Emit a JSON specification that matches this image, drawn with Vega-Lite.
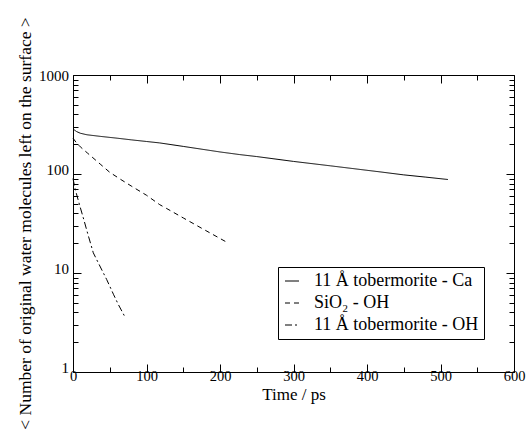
{
  "$schema": "https://vega.github.io/schema/vega-lite/v6.json",
  "width": 441,
  "height": 297,
  "autosize": "none",
  "padding": {"left": 73, "top": 75, "right": 14, "bottom": 60},
  "background": "white",
  "config": {
    "view": {"stroke": null},
    "font": "'Liberation Serif', 'Times New Roman', serif",
    "axis": {
      "grid": false,
      "domainColor": "black",
      "domainWidth": 1,
      "tickColor": "black",
      "tickWidth": 1,
      "labelColor": "black",
      "titleColor": "black",
      "labelFont": "'Liberation Serif', 'Times New Roman', serif",
      "titleFont": "'Liberation Serif', 'Times New Roman', serif",
      "labelFontSize": 15,
      "titleFontSize": 17.5,
      "titleFontWeight": 400,
      "labelFlush": false,
      "labelOverlap": false
    }
  },
  "data": {
    "values": [
      {"series": "11 Å tobermorite - Ca", "t": 0, "v": 285},
      {"series": "11 Å tobermorite - Ca", "t": 5, "v": 268},
      {"series": "11 Å tobermorite - Ca", "t": 10, "v": 258},
      {"series": "11 Å tobermorite - Ca", "t": 19, "v": 249},
      {"series": "11 Å tobermorite - Ca", "t": 37, "v": 240},
      {"series": "11 Å tobermorite - Ca", "t": 60, "v": 230},
      {"series": "11 Å tobermorite - Ca", "t": 80, "v": 221},
      {"series": "11 Å tobermorite - Ca", "t": 100, "v": 213},
      {"series": "11 Å tobermorite - Ca", "t": 118, "v": 206},
      {"series": "11 Å tobermorite - Ca", "t": 150, "v": 190},
      {"series": "11 Å tobermorite - Ca", "t": 200, "v": 167},
      {"series": "11 Å tobermorite - Ca", "t": 227, "v": 157},
      {"series": "11 Å tobermorite - Ca", "t": 250, "v": 150},
      {"series": "11 Å tobermorite - Ca", "t": 300, "v": 134},
      {"series": "11 Å tobermorite - Ca", "t": 350, "v": 121},
      {"series": "11 Å tobermorite - Ca", "t": 400, "v": 109},
      {"series": "11 Å tobermorite - Ca", "t": 418, "v": 105},
      {"series": "11 Å tobermorite - Ca", "t": 450, "v": 98},
      {"series": "11 Å tobermorite - Ca", "t": 480, "v": 93},
      {"series": "11 Å tobermorite - Ca", "t": 510, "v": 88},
      {"series": "SiO₂ - OH", "t": 0, "v": 230},
      {"series": "SiO₂ - OH", "t": 5, "v": 205},
      {"series": "SiO₂ - OH", "t": 10, "v": 188},
      {"series": "SiO₂ - OH", "t": 20, "v": 162},
      {"series": "SiO₂ - OH", "t": 37, "v": 126},
      {"series": "SiO₂ - OH", "t": 50, "v": 104},
      {"series": "SiO₂ - OH", "t": 65, "v": 88},
      {"series": "SiO₂ - OH", "t": 80, "v": 75},
      {"series": "SiO₂ - OH", "t": 100, "v": 61},
      {"series": "SiO₂ - OH", "t": 118, "v": 49},
      {"series": "SiO₂ - OH", "t": 127, "v": 45},
      {"series": "SiO₂ - OH", "t": 150, "v": 36},
      {"series": "SiO₂ - OH", "t": 180, "v": 27},
      {"series": "SiO₂ - OH", "t": 209, "v": 20.5},
      {"series": "11 Å tobermorite - OH", "t": 0, "v": 90},
      {"series": "11 Å tobermorite - OH", "t": 3, "v": 70},
      {"series": "11 Å tobermorite - OH", "t": 9.5, "v": 47},
      {"series": "11 Å tobermorite - OH", "t": 15, "v": 34},
      {"series": "11 Å tobermorite - OH", "t": 20, "v": 25},
      {"series": "11 Å tobermorite - OH", "t": 27.6, "v": 16},
      {"series": "11 Å tobermorite - OH", "t": 35, "v": 12.4},
      {"series": "11 Å tobermorite - OH", "t": 45.8, "v": 8.6},
      {"series": "11 Å tobermorite - OH", "t": 55, "v": 6.1},
      {"series": "11 Å tobermorite - OH", "t": 61.7, "v": 4.8},
      {"series": "11 Å tobermorite - OH", "t": 70.7, "v": 3.6}
    ]
  },
  "layer": [
    {
      "mark": {"type": "line", "stroke": "black", "strokeWidth": 1},
      "encoding": {
        "x": {
          "field": "t",
          "type": "quantitative",
          "scale": {"domain": [0, 600], "nice": false},
          "axis": {
            "orient": "bottom",
            "values": [0, 50, 100, 150, 200, 250, 300, 350, 400, 450, 500, 550, 600],
            "labelExpr": "datum.value % 100 == 0 ? format(datum.value, 'd') : ''",
            "tickSize": {"condition": {"test": "datum.value % 100 == 0", "value": -8}, "value": -5},
            "labelBaseline": "alphabetic",
            "labelFontSize": 14.5,
            "labelPadding": 16,
            "title": "Time / ps",
            "titleFontSize": 17,
            "titleFontWeight": 400,
            "titleBaseline": "alphabetic",
            "titleY": 27
          }
        },
        "y": {
          "field": "v",
          "type": "quantitative",
          "scale": {"type": "log", "domain": [1, 1000], "nice": false},
          "axis": {
            "orient": "left",
            "values": [1, 2, 3, 4, 5, 6, 7, 8, 9, 10, 20, 30, 40, 50, 60, 70, 80, 90, 100, 200, 300, 400, 500, 600, 700, 800, 900, 1000],
            "labelExpr": "indexof([1, 10, 100, 1000], datum.value) >= 0 ? format(datum.value, 'd') : ''",
            "tickSize": {"condition": {"test": "indexof([1, 10, 100, 1000], datum.value) >= 0", "value": -8}, "value": -5},
            "labelBaseline": {"condition": {"test": "datum.value >= 999", "value": "middle"}, "value": "alphabetic"},
            "labelPadding": 12.5,
            "title": "< Number of original water molecules left on the surface >",
            "titleFontWeight": 400,
            "titleX": -39,
            "titleY": 148
          }
        },
        "strokeDash": {
          "field": "series",
          "type": "nominal",
          "scale": {
            "domain": ["11 Å tobermorite - Ca", "SiO₂ - OH", "11 Å tobermorite - OH"],
            "range": [[1, 0], [5, 4], [7, 3, 2, 3]]
          },
          "legend": {
            "orient": "none",
            "legendX": 205,
            "legendY": 192,
            "title": null,
            "strokeColor": "black",
            "fillColor": "white",
            "padding": 5,
            "cornerRadius": 0,
            "symbolType": "stroke",
            "symbolSize": 196,
            "symbolStrokeColor": "black",
            "symbolStrokeWidth": 1,
            "labelFont": "'Liberation Serif', 'Times New Roman', serif",
            "labelFontSize": 18,
            "labelColor": "black",
            "labelLimit": 0,
            "labelOffset": 13,
            "rowPadding": 4
          }
        }
      }
    },
    {
      "mark": {"type": "point", "opacity": 0},
      "encoding": {
        "x": {
          "field": "t",
          "type": "quantitative",
          "axis": {
            "orient": "top",
            "values": [0, 50, 100, 150, 200, 250, 300, 350, 400, 450, 500, 550, 600],
            "labels": false,
            "title": null,
            "tickSize": {"condition": {"test": "datum.value % 100 == 0", "value": -8}, "value": -5}
          }
        },
        "y": {
          "field": "v",
          "type": "quantitative",
          "axis": {
            "orient": "right",
            "values": [1, 2, 3, 4, 5, 6, 7, 8, 9, 10, 20, 30, 40, 50, 60, 70, 80, 90, 100, 200, 300, 400, 500, 600, 700, 800, 900, 1000],
            "labels": false,
            "title": null,
            "tickSize": {"condition": {"test": "indexof([1, 10, 100, 1000], datum.value) >= 0", "value": -8}, "value": -5}
          }
        }
      }
    }
  ],
  "resolve": {"axis": {"x": "independent", "y": "independent"}}
}
